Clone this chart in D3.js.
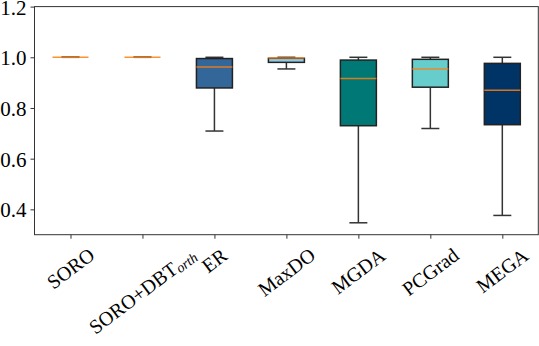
<!DOCTYPE html>
<html lang="en">
  <head>
    <meta charset="UTF-8" />
    <script src="https://d3js.org/d3.v7.min.js"></script>
    <style>
      body { margin: 0; background: #fff; }
      text { font-family: "Liberation Serif", "DejaVu Serif", serif; }
    </style>
  </head>
  <body>
    <div id="chart"></div>
    <script>
    // box statistics
    var methods   = ["SORO", "SORO+DBT", "ER", "MaxDO", "MGDA", "PCGrad", "MEGA"];
    var whiskLow  = [1.0, 1.0, 0.709, 0.954, 0.347, 0.719, 0.376];
    var q1        = [1.0, 1.0, 0.879, 0.980, 0.730, 0.882, 0.734];
    var medians   = [1.0, 1.0, 0.962, 0.997, 0.916, 0.954, 0.870];
    var q3        = [1.0, 1.0, 0.995, 0.996, 0.989, 0.992, 0.976];
    var whiskHigh = [1.0, 1.0, 1.0, 1.0, 1.0, 1.0, 1.0];
    var boxColors = ["#b0b0b0", "#b0b0b0", "#336699", "#8ecae6", "#007875", "#66cccc", "#003366"];
    var yTicks    = [0.4, 0.6, 0.8, 1.0, 1.2];

    var W = 539, H = 346;
    var margin = {top: 6.6, right: 0.7, bottom: 111.3, left: 34.5};
    var width = W - margin.left - margin.right,
        height = H - margin.top - margin.bottom;

    var root = d3.select("#chart").append("svg")
        .attr("width", W).attr("height", H);
    var svg = root.append("g")
        .attr("transform", "translate(" + margin.left + "," + margin.top + ")");

    // positions 1..7, xlim (0.5, 7.5) like matplotlib
    var x = d3.scaleLinear().domain([0.5, 7.5]).range([0, width]);
    var y = d3.scaleLinear().domain([0.3, 1.2]).range([height, 0]);
    var boxW = x(1.25) - x(1), capW = x(1.125) - x(1);

    var boxes = methods.map(function(m, i) {
      return {name: m, pos: i + 1, lo: whiskLow[i], q1: q1[i], med: medians[i], q3: q3[i], hi: whiskHigh[i], color: boxColors[i]};
    });

    var g = svg.selectAll(".box").data(boxes).enter().append("g").attr("class", "box");

    // whiskers
    g.append("line")
      .attr("x1", function(d) { return x(d.pos); }).attr("x2", function(d) { return x(d.pos); })
      .attr("y1", function(d) { return y(d.lo); }).attr("y2", function(d) { return y(d.q1); })
      .attr("stroke", "#333").attr("stroke-width", 1.5);
    g.append("line")
      .attr("x1", function(d) { return x(d.pos); }).attr("x2", function(d) { return x(d.pos); })
      .attr("y1", function(d) { return y(d.q3); }).attr("y2", function(d) { return y(d.hi); })
      .attr("stroke", "#333").attr("stroke-width", 1.5);
    // caps
    g.selectAll(".cap").data(function(d) { return [d.lo, d.hi].map(function(v) { return {pos: d.pos, v: v}; }); })
      .enter().append("line")
      .attr("x1", function(d) { return x(d.pos) - capW; }).attr("x2", function(d) { return x(d.pos) + capW; })
      .attr("y1", function(d) { return y(d.v); }).attr("y2", function(d) { return y(d.v); })
      .attr("stroke", "#333").attr("stroke-width", 1.5);
    // box
    g.append("rect")
      .attr("x", function(d) { return x(d.pos) - boxW; })
      .attr("y", function(d) { return y(d.q3); })
      .attr("width", 2 * boxW)
      .attr("height", function(d) { return y(d.q1) - y(d.q3); })
      .attr("fill", function(d) { return d.color; })
      .attr("stroke", "#222").attr("stroke-width", 1.5);
    // median
    g.append("line")
      .attr("x1", function(d) { return x(d.pos) - boxW; }).attr("x2", function(d) { return x(d.pos) + boxW; })
      .attr("y1", function(d) { return y(d.med); }).attr("y2", function(d) { return y(d.med); })
      .attr("stroke", "#ff7f0e").attr("stroke-width", 1.5).attr("stroke-opacity", 0.85);

    // frame
    svg.append("rect").attr("width", width).attr("height", height)
      .attr("fill", "none").attr("stroke", "#333").attr("stroke-width", 1);

    // y axis
    var yAxis = svg.append("g").call(d3.axisLeft(y).tickValues(yTicks).tickFormat(d3.format(".1f")).tickSize(4).tickPadding(4));
    yAxis.select(".domain").remove();
    yAxis.selectAll("text").style("font-size", "21px").attr("fill", "#000").attr("dy", "0.36em");
    yAxis.selectAll("line").attr("stroke", "#333");

    // x axis ticks
    var xAxis = svg.append("g").attr("transform", "translate(0," + height + ")")
      .call(d3.axisBottom(x).tickValues(d3.range(1, 8)).tickSize(4).tickFormat(""));
    xAxis.select(".domain").remove();
    xAxis.selectAll("line").attr("stroke", "#333");

    // rotated labels: rotated bbox centred on the tick, top just under the axis
    var labelTop = 243.5, angle = -37;
    boxes.forEach(function(d) {
      var t = root.append("text")
        .attr("text-anchor", "middle")
        .attr("dominant-baseline", "central")
        .style("font-size", "20px");
      if (d.name === "SORO+DBT") {
        t.append("tspan").text("SORO+DBT");
        t.append("tspan").attr("font-style", "italic").style("font-size", "14px").attr("dy", 4).text("orth");
      } else {
        t.text(d.name);
      }
      var tx = margin.left + x(d.pos);
      t.attr("transform", "translate(" + tx + ",300) rotate(" + angle + ")");
      var b = t.node().getBoundingClientRect();
      var dx = tx - (b.x + b.width / 2), dy = labelTop - b.y;
      t.attr("transform", "translate(" + (tx + dx) + "," + (300 + dy) + ") rotate(" + angle + ")");
    });
    </script>
  </body>
</html>
